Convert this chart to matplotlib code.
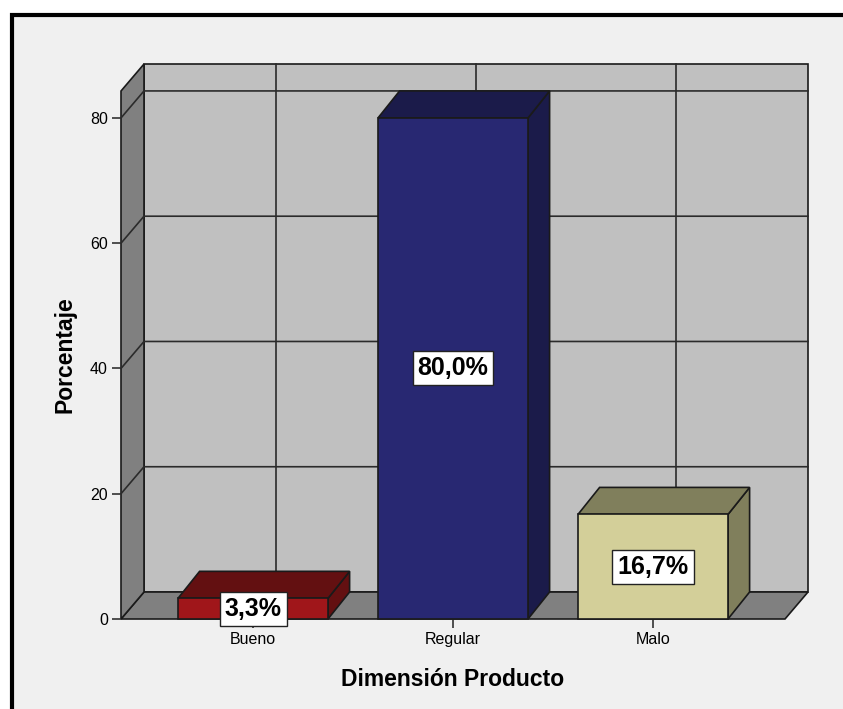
import matplotlib

matplotlib.use("Agg")
import matplotlib.pyplot as plt
from matplotlib.patches import Polygon, Rectangle

categories = ["Bueno", "Regular", "Malo"]
percentages = [3.3, 80.0, 16.7]
y_ticks = [0, 20, 40, 60, 80]

FRONT_COLORS = ["#a0161a", "#282872", "#d3cf99"]
SHADE_COLORS = ["#631011", "#1b1b4a", "#807f5c"]
WALL_BACK = "#c0c0c0"
WALL_SIDE = "#808080"
EDGE = "#1a1a1a"

X_MIN, X_MAX = -0.66, 2.66
Y_MAX = 84.3
DX, DY = 0.115, 4.31          # oblique depth of walls, in data units
BAR_DX = 0.108
BAR_HALF = 0.375

fig = plt.figure(figsize=(8.43, 7.09), dpi=100, facecolor="white")
fig.patches.append(
    Rectangle((11.5 / 843, -0.5), 2.0, 0.5 + (709 - 15) / 709,
              transform=fig.transFigure, facecolor="#f0f0f0",
              edgecolor="black", linewidth=3, zorder=-1)
)

ax = fig.add_axes([121 / 843, (709 - 619) / 709, 664 / 843, 528 / 709])
ax.set_facecolor("none")
ax.set_xlim(X_MIN, X_MAX)
ax.set_ylim(0, Y_MAX)
for spine in ax.spines.values():
    spine.set_visible(False)


def poly(points, color, z):
    ax.add_patch(Polygon(points, closed=True, facecolor=color, edgecolor=EDGE,
                         linewidth=1.2, joinstyle="miter", clip_on=False, zorder=z))


# walls and floor
poly([(X_MIN + DX, DY), (X_MAX + DX, DY), (X_MAX + DX, Y_MAX + DY), (X_MIN + DX, Y_MAX + DY)],
     WALL_BACK, 1)
poly([(X_MIN, 0), (X_MAX, 0), (X_MAX + DX, DY), (X_MIN + DX, DY)], WALL_SIDE, 1)
poly([(X_MIN, 0), (X_MIN, Y_MAX), (X_MIN + DX, Y_MAX + DY), (X_MIN + DX, DY)], WALL_SIDE, 1)

grid_kw = dict(color="#2b2b2b", linewidth=1.2, clip_on=False, zorder=2)
for v in y_ticks[1:]:
    ax.plot([X_MIN, X_MIN + DX, X_MAX + DX], [v, v + DY, v + DY], **grid_kw)
for i in range(len(categories)):
    ax.plot([i + DX, i + DX], [DY, Y_MAX + DY], **grid_kw)

# bars
for i, (v, front, shade) in enumerate(zip(percentages, FRONT_COLORS, SHADE_COLORS)):
    l, r = i - BAR_HALF, i + BAR_HALF
    poly([(r, 0), (r + BAR_DX, DY), (r + BAR_DX, v + DY), (r, v)], shade, 3)
    poly([(l, v), (r, v), (r + BAR_DX, v + DY), (l + BAR_DX, v + DY)], shade, 3)
    poly([(l, 0), (r, 0), (r, v), (l, v)], front, 4)
    ax.text(i, v / 2, f"{v:.1f}%".replace(".", ","), ha="center", va="center",
            fontsize=18, fontweight="bold", family="Liberation Sans", zorder=6,
            bbox=dict(boxstyle="square,pad=0.2", facecolor="white",
                      edgecolor="#222222", linewidth=1))

ax.set_xticks(range(len(categories)))
ax.set_xticklabels(categories)
ax.set_yticks(y_ticks)
ax.tick_params(length=6.5, width=1.2, color="#333333", labelsize=11.5, pad=3)
for lbl in ax.get_xticklabels() + ax.get_yticklabels():
    lbl.set_family("Liberation Sans")

ax.set_xlabel("Dimensión Producto", fontsize=16.5, fontweight="bold",
              family="Liberation Sans", labelpad=15)
ax.set_ylabel("Porcentaje", fontsize=16.5, fontweight="bold",
              family="Liberation Sans", labelpad=10)

fig.savefig("out.png", dpi=100)
